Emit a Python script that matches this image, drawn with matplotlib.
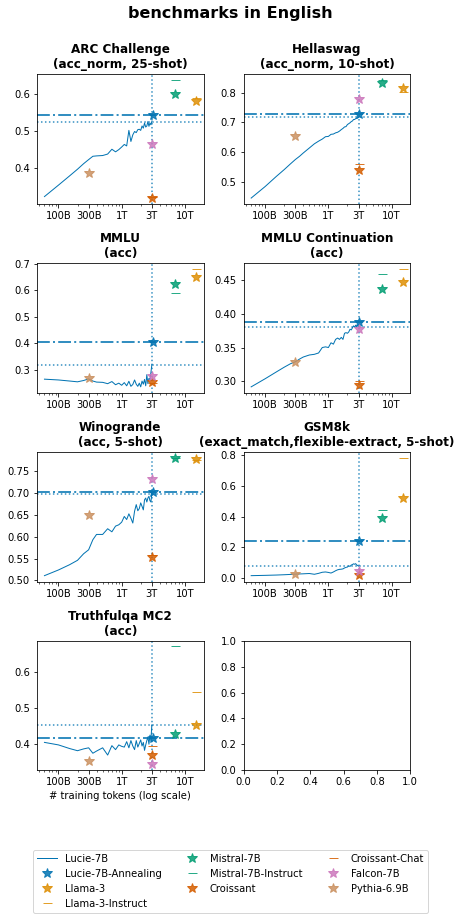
import matplotlib
matplotlib.use("Agg")
import matplotlib.pyplot as plt
from matplotlib.ticker import NullFormatter

# training checkpoints of Lucie-7B (tokens)
tokens = [60e9, 100e9, 150e9, 200e9, 250e9, 300e9, 350e9, 400e9, 500e9, 600e9,
          700e9, 800e9, 900e9, 1.0e12, 1.1e12, 1.2e12, 1.3e12, 1.4e12, 1.5e12,
          1.6e12, 1.7e12, 1.8e12, 1.9e12, 2.0e12, 2.1e12, 2.2e12, 2.3e12,
          2.4e12, 2.5e12, 2.6e12, 2.7e12, 2.8e12, 2.9e12, 3.0e12]

titles = [
    "ARC Challenge\n(acc_norm, 25-shot)",
    "Hellaswag\n(acc_norm, 10-shot)",
    "MMLU\n(acc)",
    "MMLU Continuation\n(acc)",
    "Winogrande\n(acc, 5-shot)",
    "GSM8k\n(exact_match,flexible-extract, 5-shot)",
    "Truthfulqa MC2\n(acc)",
]

lucie_arc = [0.323, 0.354, 0.379, 0.397, 0.412, 0.423, 0.432, 0.433, 0.434, 0.438,
             0.451, 0.444, 0.450, 0.457, 0.464, 0.460, 0.502, 0.472, 0.490, 0.499,
             0.496, 0.504, 0.505, 0.502, 0.514, 0.508, 0.522, 0.511, 0.514, 0.526,
             0.513, 0.522, 0.517, 0.526]
lucie_hellaswag = [0.445, 0.484, 0.518, 0.541, 0.560, 0.575, 0.586, 0.597, 0.614, 0.628,
                   0.637, 0.644, 0.652, 0.653, 0.660, 0.661, 0.665, 0.667, 0.671, 0.676,
                   0.680, 0.685, 0.686, 0.693, 0.696, 0.699, 0.703, 0.705, 0.710, 0.710,
                   0.713, 0.714, 0.715, 0.717]
lucie_mmlu = [0.265, 0.262, 0.258, 0.255, 0.260, 0.266, 0.258, 0.254, 0.253, 0.248,
              0.256, 0.244, 0.250, 0.242, 0.252, 0.240, 0.257, 0.238, 0.245, 0.262,
              0.246, 0.238, 0.250, 0.236, 0.258, 0.246, 0.264, 0.240, 0.282, 0.248,
              0.268, 0.262, 0.290, 0.319]
lucie_mmlu_cont = [0.292, 0.304, 0.314, 0.321, 0.326, 0.329, 0.333, 0.336, 0.339, 0.340,
                   0.342, 0.350, 0.351, 0.350, 0.357, 0.355, 0.362, 0.364, 0.362, 0.365,
                   0.362, 0.371, 0.372, 0.371, 0.373, 0.377, 0.376, 0.379, 0.382, 0.380,
                   0.383, 0.381, 0.383, 0.381]
lucie_winogrande = [0.511, 0.524, 0.536, 0.546, 0.561, 0.570, 0.593, 0.605, 0.605, 0.618,
                    0.611, 0.624, 0.627, 0.633, 0.646, 0.639, 0.652, 0.642, 0.631, 0.658,
                    0.673, 0.659, 0.664, 0.677, 0.669, 0.661, 0.684, 0.688, 0.679, 0.688,
                    0.692, 0.682, 0.679, 0.698]
lucie_gsm8k = [0.016, 0.018, 0.020, 0.022, 0.024, 0.026, 0.027, 0.028, 0.030, 0.025,
               0.031, 0.038, 0.040, 0.037, 0.033, 0.040, 0.048, 0.054, 0.057, 0.058,
               0.060, 0.066, 0.070, 0.072, 0.080, 0.076, 0.085, 0.088, 0.093, 0.090,
               0.094, 0.086, 0.082, 0.078]
lucie_truthfulqa = [0.405, 0.398, 0.388, 0.382, 0.387, 0.390, 0.375, 0.381, 0.390, 0.370,
                    0.396, 0.385, 0.398, 0.394, 0.392, 0.407, 0.390, 0.410, 0.395, 0.385,
                    0.410, 0.392, 0.402, 0.412, 0.395, 0.405, 0.383, 0.398, 0.410, 0.420,
                    0.400, 0.425, 0.410, 0.453]

lucie_curves = [lucie_arc, lucie_hellaswag, lucie_mmlu, lucie_mmlu_cont,
                lucie_winogrande, lucie_gsm8k, lucie_truthfulqa]

# other models, one value per benchmark (same order as titles)
annealing = [0.544, 0.727, 0.405, 0.388, 0.702, 0.241, 0.417]
llama3 = [0.582, 0.817, 0.652, 0.447, 0.777, 0.518, 0.453]
llama3_instruct = [0.590, 0.802, 0.681, 0.466, 0.775, 0.783, 0.543]
mistral = [0.600, 0.833, 0.624, 0.436, 0.779, 0.388, 0.428]
mistral_instruct = [0.638, 0.843, 0.590, 0.459, 0.780, 0.443, 0.670]
croissant = [0.319, 0.541, 0.255, 0.295, 0.554, 0.020, 0.371]
croissant_chat = [0.321, 0.560, 0.252, 0.300, 0.558, 0.028, 0.395]
falcon = [0.465, 0.780, 0.278, 0.378, 0.732, 0.046, 0.344]
pythia = [0.386, 0.656, 0.271, 0.329, 0.650, 0.028, 0.353]

# number of training tokens for each model
model_tokens = {
    "Lucie-7B-Annealing": 3.1e12,
    "Llama-3": 15e12,
    "Llama-3-Instruct": 15e12,
    "Mistral-7B": 7e12,
    "Mistral-7B-Instruct": 7e12,
    "Croissant": 3e12,
    "Croissant-Chat": 3e12,
    "Falcon-7B": 3e12,
    "Pythia-6.9B": 300e9,
}

blue = "#0173B2"
orange = "#DE8F05"
green = "#029E73"
red = "#D55E00"
pink = "#CC78BC"
brown = "#CA9161"

others = [
    ("Lucie-7B-Annealing", annealing, "*", blue),
    ("Llama-3", llama3, "*", orange),
    ("Llama-3-Instruct", llama3_instruct, "_", orange),
    ("Mistral-7B", mistral, "*", green),
    ("Mistral-7B-Instruct", mistral_instruct, "_", green),
    ("Croissant", croissant, "*", red),
    ("Croissant-Chat", croissant_chat, "_", red),
    ("Falcon-7B", falcon, "*", pink),
    ("Pythia-6.9B", pythia, "*", brown),
]

xticks = [1e11, 3e11, 1e12, 3e12, 1e13]
xticklabels = ["100B", "300B", "1T", "3T", "10T"]

fig = plt.figure(figsize=(461 / 72, 916 / 72), dpi=72)
axes = fig.subplots(4, 2)
fig.subplots_adjust(left=0.080, right=0.890, top=0.919, bottom=0.159,
                    wspace=0.24, hspace=0.455)
fig.suptitle("benchmarks in English", fontsize=16, fontweight="bold", y=0.993)

flat = axes.flatten()
for i, title in enumerate(titles):
    ax = flat[i]
    curve = lucie_curves[i]
    ax.plot(tokens, curve, color=blue, lw=1, label="Lucie-7B")
    ax.axhline(annealing[i], color=blue, ls="-.", lw=2, alpha=0.8)
    ax.axhline(curve[-1], color=blue, ls=":", lw=1.5, alpha=0.8)
    ax.axvline(tokens[-1], color=blue, ls=":", lw=1.5, alpha=0.8)
    for name, values, marker, color in others:
        size = 11 if marker == "*" else 9
        ax.plot(model_tokens[name], values[i], marker=marker, ls="none",
                color=color, markersize=size, alpha=0.85, label=name, zorder=3)
    ax.set_xscale("log")
    ax.set_xticks(xticks)
    ax.set_xticklabels(xticklabels)
    ax.xaxis.set_minor_formatter(NullFormatter())
    ax.set_title(title, fontsize=12, fontweight="bold")

flat[6].set_xlabel("# training tokens (log scale)")

handles, labels = flat[0].get_legend_handles_labels()
fig.legend(handles, labels, loc="upper center", bbox_to_anchor=(0.5, 0.078),
           ncol=3, fontsize=10)

fig.savefig("out.png", dpi=72)
